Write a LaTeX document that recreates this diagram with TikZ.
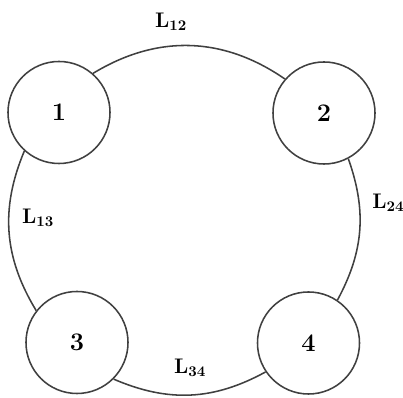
\documentclass[tikz,border=0pt]{standalone}
\usetikzlibrary{positioning}

\begin{document}
\begin{tikzpicture}[
    x=0.025cm, y=0.025cm,
    station/.style={circle, draw=black!75, line width=1.1pt, fill=white, minimum size=2.55cm, inner sep=0pt, font=\fontsize{18}{20}\selectfont\bfseries},
    link/.style={draw=black!75, line width=1.1pt},
    lbl/.style={inner sep=0pt, font=\fontsize{15}{17}\selectfont\bfseries}
  ]
    \useasboundingbox (0,0) rectangle (403,398);
    \node[station] (n1) at (59,285.5) {1};
    \node[station] (n2) at (324,285) {2};
    \node[station] (n3) at (77,55.5) {3};
    \node[station] (n4) at (308.5,55) {4};
    \draw[link] (n1.49) to[bend left=33] (n2.139);
    \draw[link] (n2.298) to[bend left=24] (n4.56);
    \draw[link] (n4.214) to[bend left=26] (n3.315);
    \draw[link] (n3.142) to[bend left=27] (n1.228);
    \node[lbl] (l12) at (171,376) {L\textsubscript{12}};
    \node[lbl, anchor=west] (l24) at (372,195) {L\textsubscript{24}};
    \node[lbl] (l13) at (38,180) {L\textsubscript{13}};
    \node[lbl] (l34) at (190,30) {L\textsubscript{34}};
  \end{tikzpicture}
\end{document}
